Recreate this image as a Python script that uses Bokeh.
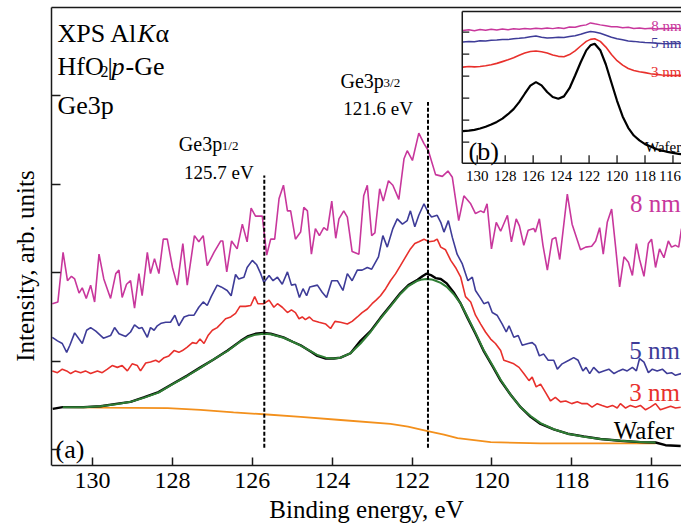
from bokeh.plotting import figure
from bokeh.models import Range1d, FixedTicker, LinearAxis, CustomJSTickFormatter
from bokeh.core.properties import value
from bokeh.embed import file_html
from bokeh.resources import INLINE

SERIF = "Liberation Serif"

# ---------------- main panel (a) data ----------------
x_ticks = [116, 118, 120, 122, 124, 126, 128, 130]
y_ticks = [0, 1, 2, 3, 4]
peak_energies = [125.7, 121.6]

E_8nm = [131.01,130.87,130.74,130.63,130.53,130.45,130.34,130.26,130.16,130.05,
         129.95,129.84,129.72,129.55,129.42,129.34,129.26,129.15,129.05,128.95,
         128.84,128.76,128.63,128.55,128.45,128.34,128.23,128.13,128.00,127.88,
         127.74,127.63,127.45,127.34,127.23,127.13,126.96,126.79,126.74,126.64,
         126.52,126.38,126.25,126.13,126.03,125.92,125.75,125.64,125.54,125.44,
         125.33,125.22,125.12,125.04,124.92,124.79,124.71,124.62,124.52,124.42,
         124.32,124.21,124.12,124.01,123.91,123.83,123.71,123.62,123.50,123.33,
         123.21,123.12,123.01,122.93,122.81,122.72,122.59,122.48,122.33,122.20,
         122.12,121.99,121.83,121.70,121.59,121.41,121.24,121.10,120.99,120.83,
         120.70,120.53,120.41,120.28,120.20,120.12,120.01,119.89,119.78,119.61,
         119.51,119.39,119.31,119.20,119.09,118.95,118.91,118.81,118.72,118.61,
         118.49,118.40,118.30,118.11,117.99,117.78,117.65,117.50,117.40,117.30,
         117.21,117.11,117.00,116.90,116.80,116.69,116.58,116.48,116.38,116.30,
         116.19,116.08,116.00,115.90,115.80,115.69,115.58,115.50,115.40,115.32,115.25]
I_8nm = [1.65,1.67,2.23,1.91,1.96,1.93,1.77,1.83,1.71,1.86,
         1.67,2.21,1.93,1.71,1.99,2.03,1.72,1.87,1.91,1.60,
         1.99,1.74,2.23,1.99,2.16,1.99,2.38,2.38,2.06,1.86,
         2.33,1.86,2.42,2.35,2.42,2.08,2.23,2.36,2.36,2.01,
         2.36,2.27,2.55,2.35,2.73,2.64,2.64,2.20,2.38,2.38,
         2.84,2.99,2.70,2.70,2.38,2.46,2.74,2.70,2.21,2.50,
         2.42,2.51,2.48,2.81,2.39,2.61,2.70,2.63,2.24,2.21,
         2.87,2.99,2.42,2.45,2.95,2.81,3.04,2.99,2.83,3.29,
         3.38,3.27,3.58,3.46,3.38,3.11,3.09,3.15,3.08,2.59,
         2.87,2.78,2.67,2.70,2.68,2.78,2.27,2.57,2.47,2.65,
         2.35,2.61,2.53,2.31,2.48,2.50,2.46,2.61,2.31,2.03,
         2.38,2.40,2.15,2.89,2.55,2.26,2.29,2.30,2.36,2.51,
         2.21,2.57,2.72,2.29,1.84,2.18,2.12,1.97,2.33,2.15,
         1.96,2.33,2.38,2.06,2.27,2.17,2.36,2.29,2.31,2.29,2.50]

E_5nm = [131.01,130.88,130.76,130.65,130.57,130.45,130.34,130.26,130.15,130.05,
         129.92,129.73,129.55,129.45,129.34,129.17,129.05,128.95,128.84,128.76,
         128.63,128.55,128.46,128.38,128.28,128.17,128.05,127.94,127.84,127.71,
         127.59,127.46,127.34,127.23,127.13,127.03,126.88,126.78,126.63,126.53,
         126.42,126.34,126.21,126.13,126.00,125.89,125.79,125.71,125.58,125.48,
         125.37,125.25,125.12,125.02,124.92,124.82,124.73,124.64,124.56,124.37,
         124.25,124.14,124.01,123.87,123.73,123.62,123.50,123.37,123.25,123.12,
         123.01,122.84,122.73,122.62,122.48,122.37,122.24,122.12,122.04,121.93,
         121.83,121.70,121.58,121.51,121.37,121.28,121.20,121.09,120.99,120.87,
         120.74,120.60,120.49,120.41,120.28,120.20,120.09,119.99,119.87,119.74,
         119.64,119.57,119.45,119.34,119.24,119.09,118.99,118.91,118.81,118.70,
         118.59,118.45,118.36,118.24,118.07,117.95,117.84,117.72,117.64,117.55,
         117.45,117.32,117.20,117.07,116.94,116.82,116.72,116.61,116.48,116.38,
         116.30,116.19,116.08,115.98,115.86,115.73,115.61,115.50,115.40,115.26]
I_5nm = [1.27,1.23,1.20,1.10,1.18,1.32,1.25,1.20,1.35,1.38,
         1.34,1.26,1.29,1.38,1.31,1.28,1.33,1.41,1.37,1.38,
         1.27,1.38,1.35,1.40,1.43,1.44,1.44,1.52,1.40,1.50,
         1.52,1.52,1.61,1.67,1.63,1.73,1.86,1.84,1.80,1.74,
         1.98,1.93,1.95,2.06,2.14,2.09,1.99,1.89,1.97,1.91,
         1.95,1.87,2.01,1.86,1.87,1.72,1.82,1.74,1.84,1.86,
         1.78,1.72,1.91,1.91,1.80,1.99,1.91,2.03,2.03,2.06,
         2.04,2.18,2.42,2.29,2.50,2.61,2.55,2.59,2.70,2.52,
         2.65,2.78,2.67,2.63,2.65,2.57,2.46,2.59,2.40,2.21,
         2.10,1.91,1.95,1.80,1.71,1.65,1.67,1.55,1.52,1.42,
         1.33,1.40,1.27,1.29,1.18,1.20,1.21,1.18,1.06,1.08,
         1.01,1.01,0.91,0.97,1.01,1.04,1.01,0.89,0.93,0.86,
         0.93,0.87,0.89,0.91,0.86,0.89,0.91,0.89,0.93,0.89,
         1.03,0.99,0.87,0.91,0.89,0.91,0.86,0.87,0.84,0.86]

E_3nm = [131.01,130.88,130.76,130.65,130.55,130.43,130.30,130.18,130.05,129.88,
         129.76,129.63,129.51,129.38,129.26,129.13,129.01,128.88,128.80,128.67,
         128.55,128.42,128.34,128.21,128.09,127.96,127.84,127.75,127.63,127.50,
         127.40,127.31,127.21,127.11,127.00,126.88,126.75,126.67,126.54,126.42,
         126.31,126.17,126.04,125.94,125.86,125.71,125.58,125.46,125.37,125.25,
         125.12,125.02,124.92,124.83,124.75,124.67,124.57,124.48,124.33,124.16,
         124.04,123.93,123.79,123.62,123.50,123.37,123.25,123.12,123.00,122.90,
         122.79,122.66,122.54,122.41,122.29,122.16,122.04,121.93,121.83,121.70,
         121.58,121.45,121.37,121.28,121.16,121.03,120.91,120.78,120.66,120.53,
         120.41,120.28,120.16,120.03,119.91,119.78,119.70,119.57,119.45,119.32,
         119.20,119.07,118.99,118.89,118.78,118.66,118.53,118.41,118.28,118.15,
         118.00,117.86,117.74,117.61,117.49,117.36,117.24,117.11,116.98,116.86,
         116.78,116.65,116.53,116.40,116.28,116.15,116.03,115.90,115.78,115.65,
         115.52,115.40,115.27]
I_3nm = [0.89,0.87,0.91,0.89,0.86,0.89,0.87,0.89,0.86,0.89,
         0.87,0.91,0.95,0.93,0.95,0.89,0.97,0.95,0.89,0.98,
         0.99,1.01,0.99,1.04,1.06,1.12,1.10,1.12,1.16,1.21,
         1.20,1.25,1.20,1.29,1.35,1.38,1.44,1.48,1.50,1.54,
         1.62,1.62,1.63,1.73,1.65,1.65,1.69,1.61,1.65,1.61,
         1.55,1.58,1.55,1.48,1.50,1.47,1.50,1.46,1.44,1.42,
         1.37,1.45,1.44,1.42,1.45,1.50,1.55,1.59,1.65,1.69,
         1.74,1.82,1.91,1.99,2.08,2.18,2.27,2.33,2.35,2.38,
         2.35,2.36,2.38,2.29,2.26,2.14,2.06,1.95,1.73,1.67,
         1.52,1.42,1.33,1.25,1.20,1.12,1.01,0.99,0.97,0.93,
         0.86,0.78,0.82,0.71,0.74,0.65,0.55,0.59,0.54,0.55,
         0.52,0.54,0.52,0.52,0.48,0.52,0.50,0.48,0.50,0.47,
         0.52,0.47,0.50,0.48,0.50,0.45,0.48,0.52,0.45,0.47,
         0.49,0.47,0.48]

E_wafer = [131.00,130.75,130.23,129.80,129.37,129.05,128.72,128.35,127.97,127.62,
           127.30,126.97,126.62,126.29,126.12,125.92,125.72,125.54,125.22,124.99,
           124.79,124.54,124.37,124.16,123.96,123.79,123.54,123.29,123.04,122.79,
           122.54,122.29,122.09,121.86,121.74,121.64,121.51,121.41,121.28,121.13,
           120.96,120.78,120.61,120.41,120.21,119.98,119.78,119.53,119.28,119.03,
           118.78,118.45,118.10,117.70,117.28,116.78,116.28,115.90,115.65,115.27]
I_wafer = [0.46,0.48,0.48,0.49,0.52,0.54,0.59,0.65,0.75,0.84,
           0.93,1.02,1.12,1.23,1.28,1.31,1.32,1.31,1.27,1.22,
           1.18,1.11,1.06,1.03,1.03,1.04,1.09,1.23,1.34,1.49,
           1.63,1.77,1.86,1.92,1.96,1.99,1.97,1.94,1.93,1.88,
           1.78,1.65,1.49,1.31,1.12,0.94,0.78,0.62,0.48,0.37,
           0.29,0.23,0.18,0.15,0.12,0.10,0.085,0.08,0.05,0.04]

E_fit = [130.75,130.23,129.80,129.37,129.05,128.72,128.35,127.97,127.62,
         127.30,126.97,126.62,126.29,126.12,125.92,125.72,125.54,125.22,124.99,
         124.79,124.54,124.37,124.16,123.96,123.79,123.54,123.29,123.04,122.79,
         122.54,122.29,122.09,121.86,121.74,121.64,121.51,121.41,121.28,121.13,
         120.96,120.78,120.61,120.41,120.21,119.98,119.78,119.53,119.28,119.03,
         118.78,118.45,118.10,117.70,117.28,116.78,116.28,115.90]
I_fit = [0.48,0.48,0.49,0.515,0.54,0.585,0.645,0.745,0.835,
         0.925,1.02,1.115,1.225,1.27,1.30,1.31,1.305,1.265,1.22,
         1.175,1.115,1.07,1.04,1.03,1.04,1.09,1.20,1.33,1.48,
         1.62,1.76,1.85,1.91,1.925,1.93,1.925,1.91,1.885,1.84,
         1.76,1.65,1.50,1.32,1.13,0.95,0.79,0.62,0.48,0.38,
         0.30,0.23,0.18,0.145,0.12,0.10,0.085,0.08]

E_bg = [130.75,129.80,128.12,127.30,126.47,125.72,124.79,123.79,122.54,122.10,
        121.61,121.20,120.86,120.03,118.78,117.28,115.90]
I_bg = [0.48,0.475,0.47,0.45,0.42,0.40,0.37,0.335,0.29,0.26,
        0.21,0.17,0.13,0.085,0.07,0.07,0.07]

# ---------------- inset (b) data ----------------
inset_x_ticks = [116, 118, 120, 122, 124, 126, 128, 130]
inset_y_ticks = [1, 2, 3, 4, 5, 6]
inset_energy = [131.03,130.6,130.2,129.8,129.4,129.0,128.6,128.2,127.8,127.4,
                127.0,126.6,126.2,125.8,125.4,125.0,124.6,124.2,123.8,123.4,
                123.0,122.6,122.2,121.9,121.6,121.2,120.8,120.4,120.0,119.6,
                119.2,118.8,118.4,118.0,117.6,117.2,116.8,116.4,116.0,115.6,115.3]
inset_8nm = [6.08,6.11,6.06,6.12,6.09,6.13,6.10,6.14,6.11,6.15,
             6.13,6.17,6.14,6.18,6.15,6.19,6.16,6.20,6.17,6.23,
             6.22,6.29,6.33,6.42,6.38,6.33,6.29,6.25,6.24,6.20,
             6.22,6.17,6.19,6.15,6.18,6.14,6.17,6.15,6.19,6.16,6.18]
inset_5nm = [5.55,5.58,5.56,5.61,5.60,5.63,5.64,5.67,5.66,5.70,
             5.72,5.75,5.79,5.82,5.77,5.73,5.75,5.77,5.76,5.80,
             5.84,5.90,5.98,6.03,6.01,5.95,5.86,5.77,5.70,5.65,
             5.60,5.58,5.55,5.53,5.52,5.50,5.48,5.47,5.49,5.48,5.50]
inset_3nm = [4.41,4.44,4.42,4.44,4.47,4.52,4.58,4.66,4.74,4.84,
             4.95,5.05,5.12,5.14,5.11,5.05,4.96,4.90,4.88,4.98,
             5.15,5.37,5.58,5.67,5.70,5.58,5.32,4.98,4.70,4.50,
             4.35,4.26,4.20,4.16,4.11,4.08,4.05,4.04,4.03,4.04,4.03]
inset_wafer = [1.50,1.52,1.56,1.62,1.70,1.80,1.92,2.07,2.27,2.50,
               2.82,3.20,3.57,3.73,3.58,3.28,3.05,2.97,3.08,3.45,
               4.03,4.63,5.17,5.40,5.47,5.18,4.53,3.70,2.88,2.17,
               1.65,1.30,1.08,0.91,0.80,0.69,0.62,0.56,0.51,0.47,0.44]

# ---------------- colours ----------------
C8, C5, C3, CW, CFIT, CBG = "#C8379C", "#3E3C98", "#E8302C", "#000000", "#2F7D34", "#F3901C"
AX = "#1a1a1a"

Y_LOW = -0.18   # bottom of the plotted box (where the x axis sits)

p = figure(width=681, height=524, output_backend="svg", toolbar_location=None,
           x_range=Range1d(131.03, 115.25), y_range=Range1d(-0.847, 5.0),
           min_border_left=51, min_border_right=0, min_border_top=7, min_border_bottom=0)
p.outline_line_color = None
p.grid.visible = False
p.background_fill_color = "white"
p.border_fill_color = "white"

# inset coordinate system (placed in the upper-right corner of the frame)
p.extra_x_ranges = {"ix": Range1d(160.45, 115.39)}
p.extra_y_ranges = {"iy": Range1d(-16.38, 7.12)}

xa = p.xaxis[0]
xa.fixed_location = Y_LOW
xa.ticker = FixedTicker(ticks=x_ticks)
xa.major_tick_in = 8
xa.major_tick_out = 0
xa.minor_tick_in = 0
xa.minor_tick_out = 0
xa.major_label_standoff = 7
xa.major_label_text_font = SERIF
xa.major_label_text_font_size = "24px"
xa.major_label_text_color = "black"
xa.axis_label = "Binding energy, eV"
xa.axis_label_text_font = SERIF
xa.axis_label_text_font_size = "25px"
xa.axis_label_text_font_style = "normal"
xa.axis_label_text_color = "black"
xa.axis_label_standoff = 5
xa.axis_line_width = 1.5
xa.axis_line_color = AX
xa.major_tick_line_width = 1.5
xa.major_tick_line_color = AX

ya = p.yaxis[0]
ya.bounds = (Y_LOW, 5.0)
ya.ticker = FixedTicker(ticks=y_ticks)
ya.formatter = CustomJSTickFormatter(code="return ''")
ya.major_tick_in = 9
ya.major_tick_out = 0
ya.minor_tick_in = 0
ya.minor_tick_out = 0
ya.major_label_standoff = 0
ya.axis_label = "Intensity, arb. units"
ya.axis_label_text_font = SERIF
ya.axis_label_text_font_size = "25px"
ya.axis_label_text_font_style = "normal"
ya.axis_label_text_color = "black"
ya.axis_label_standoff = 13
ya.axis_line_width = 1.5
ya.axis_line_color = AX
ya.major_tick_line_width = 1.5
ya.major_tick_line_color = AX

top_axis = LinearAxis(ticker=FixedTicker(ticks=[]), major_tick_in=0, major_tick_out=0,
                      minor_tick_in=0, minor_tick_out=0, axis_line_width=1.5, axis_line_color=AX,
                      formatter=CustomJSTickFormatter(code="return ''"))
p.add_layout(top_axis, "above")

# ---------------- main curves ----------------
p.line(E_8nm, I_8nm, line_color=C8, line_width=1.6)
p.line(E_5nm, I_5nm, line_color=C5, line_width=1.6)
p.line(E_3nm, I_3nm, line_color=C3, line_width=1.6)
p.line(E_bg, I_bg, line_color=CBG, line_width=1.8)
p.line(E_wafer, I_wafer, line_color=CW, line_width=2.4)
p.line(E_fit, I_fit, line_color=CFIT, line_width=2.0)

p.segment(x0=peak_energies, y0=[0.02, 0.02], x1=peak_energies, y1=[3.10, 3.93],
          line_color="black", line_width=2, line_dash="4 2")


def txt(x, y, s, size, color="black", style="normal", xo=0, yo=0, align="left",
        baseline="alphabetic", inset=False):
    kw = {}
    if inset:
        kw = dict(x_range_name="ix", y_range_name="iy")
    p.text(x=[x], y=[y], text=[s], text_font=value(SERIF), text_font_size=value(size),
           text_font_style=value(style), text_color=value(color), text_align=value(align),
           text_baseline=value(baseline), x_offset=xo, y_offset=yo, **kw)


# top-left labels
txt(130.88, 4.706, "XPS Al", "26px")
txt(130.88, 4.706, "K", "26px", style="italic", xo=80)
txt(130.88, 4.706, "\u03b1", "26px", xo=98)
txt(130.88, 4.329, "HfO", "26px")
txt(130.88, 4.329, "2", "16px", xo=43, yo=5)
txt(130.88, 4.329, "|", "26px", xo=50)
txt(130.88, 4.329, "p", "26px", style="italic", xo=54)
txt(130.88, 4.329, "-Ge", "26px", xo=68)
txt(130.88, 3.895, "Ge3p", "26px")
txt(130.93, 0.0, "(a)", "26px")

# peak annotations
txt(127.84, 3.458, "Ge3p", "20px")
txt(127.84, 3.458, "1/2", "13px", xo=43, yo=2)
txt(126.84, 3.137, "125.7 eV", "19px", align="center")
txt(123.79, 4.174, "Ge3p", "20px")
txt(123.79, 4.174, "3/2", "13px", xo=43, yo=2)
txt(122.85, 3.854, "121.6 eV", "19px", align="center")

# series labels at the right edge
txt(116.54, 2.783, "8 nm", "25px", color=C8)
txt(116.56, 1.120, "5 nm", "25px", color=C5)
txt(116.56, 0.645, "3 nm", "25px", color=C3)
txt(116.95, 0.215, "Wafer", "25px", color=CW)

# ---------------- inset (b) ----------------
IL, IB, IT, IR = 131.07, 0.045, 6.94, 114.0
p.quad(left=[IL], right=[IR], bottom=[IB], top=[IT], fill_color="white", line_color=None,
       x_range_name="ix", y_range_name="iy")
p.line(inset_energy, inset_8nm, line_color=C8, line_width=1.5, x_range_name="ix", y_range_name="iy")
p.line(inset_energy, inset_5nm, line_color=C5, line_width=1.5, x_range_name="ix", y_range_name="iy")
p.line(inset_energy, inset_3nm, line_color=C3, line_width=1.6, x_range_name="ix", y_range_name="iy")
p.line(inset_energy, inset_wafer, line_color=CW, line_width=2.2, x_range_name="ix", y_range_name="iy")
p.multi_line(xs=[[IL, IL], [IL, IR], [IL, IR]], ys=[[IB, IT], [IT, IT], [IB, IB]],
             line_color=AX, line_width=1.5, x_range_name="ix", y_range_name="iy")
p.segment(x0=inset_x_ticks, y0=[IB] * len(inset_x_ticks), x1=inset_x_ticks,
          y1=[IB + 0.36] * len(inset_x_ticks), line_color=AX, line_width=1.3,
          x_range_name="ix", y_range_name="iy")
p.segment(x0=[IL] * len(inset_y_ticks), y0=inset_y_ticks, x1=[IL - 0.5] * len(inset_y_ticks),
          y1=inset_y_ticks, line_color=AX, line_width=1.3, x_range_name="ix", y_range_name="iy")
# tick labels of the inset; the last one (116) is nudged so it stays inside the window
label_nudge = [-3 if t == min(inset_x_ticks) else 0 for t in inset_x_ticks]
p.text(x=inset_x_ticks, y=[IB] * len(inset_x_ticks), text=[str(t) for t in inset_x_ticks],
       text_font=value(SERIF), text_font_size=value("15px"), text_color=value("black"),
       text_align=value("center"), text_baseline=value("top"), y_offset=8,
       x_offset=label_nudge, x_range_name="ix", y_range_name="iy")

txt(117.55, 6.30, "8 nm", "15px", color=C8, inset=True)
txt(117.58, 5.49, "5 nm", "15px", color=C5, inset=True)
txt(117.58, 4.18, "3 nm", "15px", color=C3, inset=True)
txt(118.00, 0.77, "Wafer", "15px", color=CW, inset=True)
txt(130.62, 0.58, "(b)", "26px", inset=True)

open("out.html", "w").write(file_html(p, INLINE))
